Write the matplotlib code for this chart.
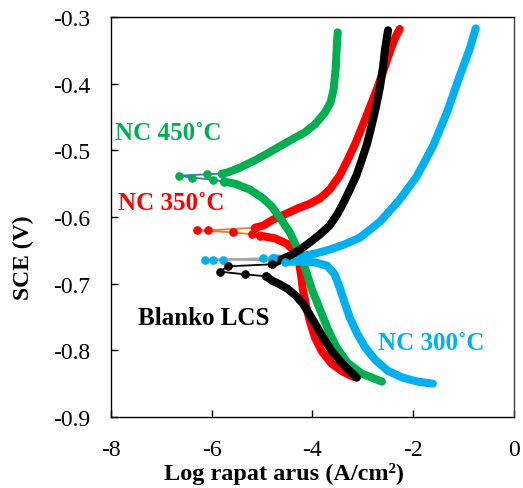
import matplotlib
matplotlib.use("Agg")
import matplotlib.pyplot as plt

# ==========================================
# DATA
# each curve: cathodic branch, sparse points near Ecorr, anodic branch
# ==========================================

# NC 450°C (green)
g_cat_x = [-5.76, -5.54, -5.24, -5.00, -4.81, -4.65, -4.45, -4.29, -4.15, -4.01, -3.85, -3.69, -3.52, -3.30, -3.02, -2.62]
g_cat_y = [-0.547, -0.550, -0.559, -0.571, -0.584, -0.601, -0.623, -0.649, -0.676, -0.709, -0.739, -0.769, -0.796, -0.819, -0.835, -0.847]
g_mid_x = [-5.76, -5.98, -6.39, -6.65, -6.10, -5.80]
g_mid_y = [-0.547, -0.544, -0.541, -0.538, -0.536, -0.535]
g_an_x = [-5.80, -5.68, -5.44, -5.14, -4.90, -4.65, -4.39, -4.15, -3.95, -3.75, -3.64, -3.58, -3.54, -3.52, -3.50]
g_an_y = [-0.535, -0.533, -0.526, -0.515, -0.505, -0.494, -0.483, -0.473, -0.461, -0.443, -0.428, -0.408, -0.378, -0.348, -0.323]

# NC 350°C (red)
r_cat_x = [-5.04, -4.75, -4.51, -4.35, -4.27, -4.23, -4.19, -4.13, -4.05, -3.95, -3.81, -3.62, -3.40, -3.18]
r_cat_y = [-0.628, -0.632, -0.640, -0.652, -0.667, -0.686, -0.709, -0.732, -0.757, -0.781, -0.802, -0.820, -0.832, -0.840]
r_mid_x = [-5.04, -5.20, -5.58, -6.29, -6.08, -5.14]
r_mid_y = [-0.628, -0.626, -0.623, -0.620, -0.620, -0.616]
r_an_x = [-5.14, -4.98, -4.81, -4.55, -4.29, -4.05, -3.85, -3.66, -3.46, -3.30, -3.14, -3.00, -2.86, -2.72, -2.58, -2.46, -2.37, -2.27]
r_an_y = [-0.616, -0.613, -0.605, -0.596, -0.587, -0.580, -0.572, -0.559, -0.538, -0.514, -0.488, -0.462, -0.435, -0.408, -0.378, -0.351, -0.333, -0.318]

# NC 300°C (blue)
b_cat_x = [-4.55, -4.25, -3.95, -3.71, -3.56, -3.46, -3.36, -3.26, -3.12, -2.96, -2.76, -2.50, -2.21, -1.91, -1.61]
b_cat_y = [-0.667, -0.667, -0.668, -0.673, -0.686, -0.706, -0.729, -0.751, -0.774, -0.795, -0.814, -0.831, -0.841, -0.847, -0.850]
b_mid_x = [-4.55, -4.81, -5.78, -6.13, -5.98, -4.98, -4.79]
b_mid_y = [-0.667, -0.665, -0.664, -0.664, -0.664, -0.662, -0.662]
b_an_x = [-4.79, -4.55, -4.25, -3.95, -3.66, -3.36, -3.06, -2.66, -2.27, -1.93, -1.61, -1.33, -1.08, -0.88, -0.76]
b_an_y = [-0.662, -0.663, -0.659, -0.655, -0.649, -0.641, -0.631, -0.607, -0.574, -0.539, -0.494, -0.443, -0.389, -0.348, -0.317]

# Blanko LCS (black)
k_cat_x = [-4.92, -4.79, -4.65, -4.49, -4.33, -4.19, -4.05, -3.91, -3.77, -3.62, -3.44, -3.26, -3.12]
k_cat_y = [-0.689, -0.696, -0.701, -0.708, -0.718, -0.730, -0.747, -0.765, -0.783, -0.801, -0.817, -0.831, -0.841]
k_mid_x = [-4.92, -5.34, -5.84, -5.68, -4.81]
k_mid_y = [-0.689, -0.686, -0.682, -0.674, -0.671]
k_an_x = [-4.81, -4.65, -4.45, -4.25, -4.05, -3.85, -3.66, -3.50, -3.38, -3.24, -3.12, -3.02, -2.92, -2.82, -2.74, -2.66, -2.60, -2.56, -2.50]
k_an_y = [-0.671, -0.665, -0.658, -0.649, -0.638, -0.626, -0.613, -0.595, -0.578, -0.556, -0.536, -0.514, -0.491, -0.461, -0.435, -0.405, -0.375, -0.348, -0.320]

x_ticks = [-8, -6, -4, -2, 0]
y_ticks = [-0.9, -0.8, -0.7, -0.6, -0.5, -0.4, -0.3]

# (label, marker colour, thin line colour, curve data, label position)
series = [
    ("NC 350\u02daC", "#FF0000", "#ED7D31", (r_cat_x, r_cat_y, r_mid_x, r_mid_y, r_an_x, r_an_y), (-7.86, -0.579)),
    ("NC 450\u02daC", "#00B050", "#4472C4", (g_cat_x, g_cat_y, g_mid_x, g_mid_y, g_an_x, g_an_y), (-7.92, -0.473)),
    ("NC 300\u02daC", "#00B0F0", "#A5A5A5", (b_cat_x, b_cat_y, b_mid_x, b_mid_y, b_an_x, b_an_y), (-2.70, -0.789)),
    ("Blanko LCS", "#000000", "#000000", (k_cat_x, k_cat_y, k_mid_x, k_mid_y, k_an_x, k_an_y), (-7.46, -0.751)),
]

# ==========================================
# PLOT
# ==========================================
plt.rcParams['font.family'] = ['Liberation Serif', 'DejaVu Serif']

fig = plt.figure(figsize=(5.23, 4.89), dpi=100)
ax = fig.add_axes([0.2122, 0.1452, 0.7706, 0.818])

for name, col, lcol, (cx, cy, mx, my, axx, ay), (tx, ty) in series:
    # thin connecting line near the corrosion potential
    ax.plot(mx, my, color=lcol, lw=1.3, zorder=2)
    # dense branches drawn as thick strokes
    ax.plot(cx, cy, color=col, lw=5.8, solid_capstyle='round', solid_joinstyle='round', zorder=3)
    ax.plot(axx, ay, color=col, lw=5.8, solid_capstyle='round', solid_joinstyle='round', zorder=3)
    # sparse points
    ax.plot(mx, my, linestyle='none', marker='o', ms=5.2, color=col, zorder=4)
    ax.text(tx, ty, name, color=col, fontsize=18, fontweight='bold', ha='left', va='center')

ax.set_xlim(-8, 0)
ax.set_ylim(-0.9, -0.3)
ax.set_xticks(x_ticks)
ax.set_yticks(y_ticks)
ax.set_xticklabels([str(t) for t in x_ticks])
ax.set_yticklabels([f"{t:.1f}" for t in y_ticks])
ax.tick_params(direction='in', length=5, width=1, labelsize=17)
ax.tick_params(axis='x', pad=16)
ax.tick_params(axis='y', pad=15)

for s in ax.spines.values():
    s.set_linewidth(1)
ax.spines['right'].set_color('#404040')

ax.set_xlabel('Log rapat arus (A/cm\u00b2)', fontsize=17.5, fontweight='bold')
ax.set_ylabel('SCE (V)', fontsize=17, fontweight='bold')
ax.xaxis.set_label_coords(0.43, -0.113)
ax.yaxis.set_label_coords(-0.19, 0.40)

plt.savefig('out.png', dpi=100)
